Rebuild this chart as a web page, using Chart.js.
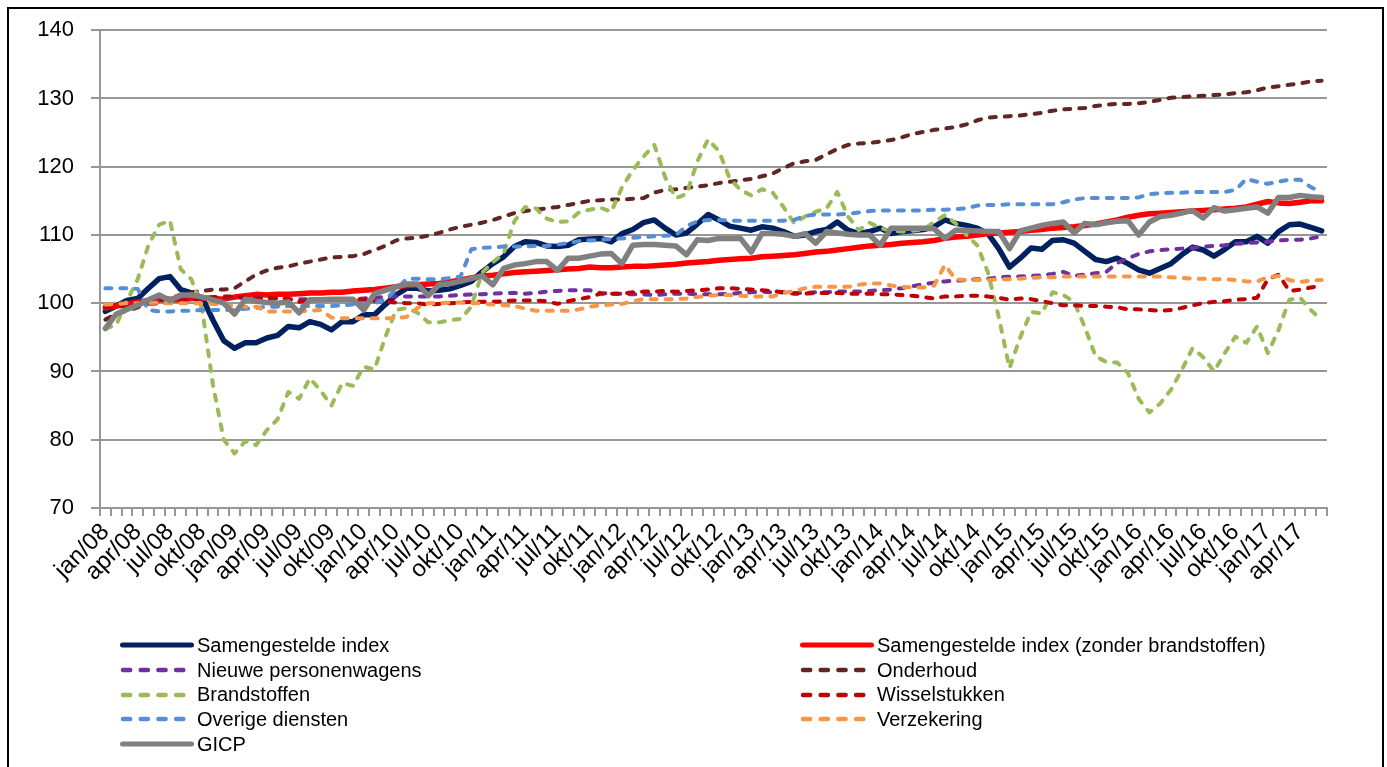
<!DOCTYPE html>
<html>
<head>
<meta charset="utf-8">
<script src="https://cdn.jsdelivr.net/npm/chart.js@4/dist/chart.umd.min.js"></script>
<style>
html,body{margin:0;padding:0;background:#fff;width:1387px;height:767px;overflow:hidden;}
#wrap{position:absolute;left:0;top:0;width:1387px;height:767px;}
#frame{position:absolute;left:7px;top:7px;width:1377px;height:800px;border:2px solid #000;box-sizing:border-box;pointer-events:none;}
#legend{position:absolute;left:0;top:0;width:1387px;height:767px;font-family:'Liberation Sans',Arial,sans-serif;font-size:20px;color:#000;pointer-events:none;}
.item{position:absolute;height:24px;display:flex;align-items:center;white-space:nowrap;}
.item svg{display:block;margin-right:3px;}
</style>
</head>
<body>
<div id="wrap"><canvas id="c" width="1387" height="767"></canvas></div>
<div id="legend"></div>
<div id="frame"></div>
<script>
// ---- categories / tick labels ----
const monthNames = ['jan','feb','mrt','apr','mei','jun','jul','aug','sep','okt','nov','dec'];
const years = ['08','09','10','11','12','13','14','15','16','17'];
const shownMonths = ['jan','apr','jul','okt'];
const lastMonthCount = 6; // 2017: jan..jun
const categories = [];
years.forEach((y, yi) => {
  const n = (yi === years.length - 1) ? lastMonthCount : 12;
  for (let m = 0; m < n; m++) categories.push(monthNames[m] + '/' + y);
});

// ---- series values ----
const samengesteldeIndex = [
  98.8, 99.6, 100.4, 100.7, 102.2, 103.6, 103.9, 102.0, 101.5, 100.8,
  97.5, 94.5, 93.4, 94.2, 94.2, 94.9, 95.3, 96.6, 96.4, 97.3,
  96.9, 96.1, 97.3, 97.3, 98.3, 98.3, 99.8, 101.2, 102.2, 102.2,
  101.8, 101.9, 102.1, 102.6, 103.2, 104.6, 105.8, 106.8, 108.3, 109.0,
  108.9, 108.4, 108.3, 108.5, 109.3, 109.4, 109.5, 109.0, 110.2, 110.8,
  111.8, 112.2, 111.0, 110.0, 110.3, 111.6, 113.0, 112.2, 111.3, 111.0,
  110.7, 111.2, 111.0, 110.5, 109.8, 110.0, 110.5, 110.8, 111.9, 110.7,
  110.2, 110.5, 111.0, 110.2, 110.5, 110.6, 110.8, 111.2, 112.2, 111.7,
  111.4, 111.0, 110.2, 108.0, 105.3, 106.6, 108.1, 107.9, 109.2, 109.3,
  108.8, 107.6, 106.4, 106.1, 106.6, 105.8, 104.9, 104.4, 105.1, 105.8,
  107.1, 108.2, 107.8, 106.9, 107.9, 109.0, 109.0, 109.8, 108.8, 110.5,
  111.5, 111.6, 111.1, 110.6
];
const zonderBrandstoffen = [
  99.3, 99.6, 99.9, 100.2, 100.4, 100.5, 100.6, 100.5, 100.7, 100.8,
  100.7, 100.6, 100.9, 101.1, 101.3, 101.2, 101.3, 101.3, 101.4, 101.5,
  101.5, 101.6, 101.6, 101.8, 101.9, 102.0, 102.2, 102.4, 102.6, 102.7,
  102.8, 102.9, 103.1, 103.4, 103.7, 104.0, 104.1, 104.3, 104.5, 104.6,
  104.7, 104.8, 104.9, 105.0, 105.1, 105.3, 105.2, 105.2, 105.3, 105.4,
  105.4, 105.5, 105.6, 105.7, 105.9, 106.0, 106.1, 106.3, 106.4, 106.5,
  106.6, 106.8, 106.9, 107.0, 107.1, 107.3, 107.5, 107.6, 107.8, 108.0,
  108.2, 108.4, 108.5, 108.6, 108.8, 108.9, 109.0, 109.2, 109.5, 109.7,
  109.8, 110.0, 110.2, 110.3, 110.4, 110.5, 110.7, 110.8, 111.0, 111.1,
  111.2, 111.4, 111.6, 111.9, 112.2, 112.6, 112.9, 113.1, 113.2, 113.3,
  113.4, 113.5, 113.6, 113.7, 113.8, 113.9, 114.1, 114.5, 114.9, 114.7,
  114.6, 114.8, 115.0, 115.0
];
const nieuwePersonenwagens = [
  99.7, 99.8, 99.9, 100.0, 100.1, 100.2, 100.3, 100.4, 100.5, 100.6,
  100.7, 100.7, 100.8, 100.8, 100.8, 100.7, 100.7, 100.6, 100.6, 100.6,
  100.5, 100.5, 100.5, 100.6, 100.7, 100.8, 100.9, 101.0, 101.0, 101.0,
  101.0, 101.0, 101.1, 101.2, 101.3, 101.3, 101.4, 101.5, 101.5, 101.4,
  101.5, 101.7, 101.8, 101.9, 101.9, 101.9, 101.5, 101.4, 101.4, 101.3,
  101.3, 101.2, 101.3, 101.4, 101.4, 101.3, 101.3, 101.3, 101.4, 101.5,
  101.6, 101.7, 101.6, 101.6, 101.5, 101.5, 101.6, 101.6, 101.7, 101.7,
  101.7, 101.8, 101.9, 102.0, 102.2, 102.5, 102.8, 103.0, 103.2, 103.3,
  103.4, 103.5, 103.6, 103.8, 103.9, 103.9, 104.0, 104.1, 104.3, 104.6,
  104.0, 104.2, 104.4, 104.6, 105.9, 106.6, 107.2, 107.6, 107.8, 107.9,
  108.0, 108.1, 108.3, 108.4, 108.5, 108.7, 108.8, 108.9, 109.0, 109.2,
  109.3, 109.3, 109.5, 109.8
];
const onderhoud = [
  97.6, 98.4, 98.9, 99.4, 100.0, 100.4, 100.8, 101.2, 101.6, 101.8,
  102.0, 102.0, 102.2, 103.2, 104.2, 104.8, 105.2, 105.4, 105.8, 106.1,
  106.4, 106.7, 106.8, 106.9, 107.2, 107.8, 108.4, 109.2, 109.5, 109.6,
  109.9, 110.3, 110.8, 111.2, 111.5, 111.8, 112.2, 112.7, 113.2, 113.5,
  113.7, 113.9, 114.1, 114.4, 114.7, 115.0, 115.1, 115.2, 115.2, 115.3,
  115.4, 116.2, 116.6, 116.7, 116.9, 117.1, 117.3, 117.6, 117.8, 118.0,
  118.2, 118.6, 119.0, 119.8, 120.5, 120.8, 121.0, 121.8, 122.6, 123.2,
  123.4, 123.5, 123.7, 123.9, 124.3, 124.8, 125.1, 125.4, 125.6, 125.8,
  126.2, 126.8, 127.2, 127.3, 127.4, 127.5, 127.7, 127.9, 128.2, 128.4,
  128.5, 128.6, 128.9, 129.1, 129.2, 129.2, 129.3, 129.5, 129.8, 130.1,
  130.2, 130.3, 130.4, 130.5, 130.6, 130.8, 130.9, 131.2, 131.6, 131.8,
  132.0, 132.2, 132.5, 132.6
];
const brandstoffen = [
  96.3, 96.8, 100.3, 103.5, 108.5, 111.5, 112.1, 105.0, 103.5, 99.0,
  88.0, 80.0, 78.0, 79.8, 79.2, 81.4, 83.0, 87.0, 86.0, 89.0,
  87.2, 85.0, 88.3, 87.9, 90.7, 90.3, 95.0, 99.0, 99.3, 98.6,
  97.2, 97.2, 97.5, 97.7, 99.5, 104.5, 106.0, 107.3, 112.0, 114.1,
  113.9, 112.4, 111.9, 112.0, 113.3, 113.7, 114.0, 113.4, 117.0, 119.5,
  121.5, 123.2, 118.5, 115.4, 116.0, 120.8, 124.0, 122.3, 118.3, 116.6,
  115.8, 116.7, 116.2, 114.1, 111.7, 112.7, 113.4, 113.9, 116.3, 112.7,
  110.7, 111.8, 111.0, 110.6, 110.5, 110.6, 110.8, 111.9, 112.9, 111.7,
  110.0, 108.5, 104.5, 98.0, 90.5, 95.0, 98.7, 98.5, 101.6, 101.2,
  100.2, 96.5, 92.2, 91.4, 91.3, 89.8, 86.0, 84.0, 85.3, 87.3,
  90.2, 93.4, 92.1, 90.0, 92.7, 95.1, 94.2, 96.6, 92.7, 96.1,
  100.5, 100.8, 99.0, 97.5
];
const wisselstukken = [
  99.4, 99.5, 99.6, 99.8, 99.9, 100.0, 100.1, 100.3, 100.6, 100.7,
  100.9, 101.0, 101.0, 100.8, 100.7, 100.7, 100.8, 100.6, 100.2, 100.4,
  100.5, 100.5, 100.5, 100.5, 100.5, 100.3, 100.2, 100.1, 100.0, 100.0,
  99.8, 99.9, 100.0, 100.1, 100.2, 100.2, 100.2, 100.3, 100.4, 100.4,
  100.4, 100.3, 99.9, 100.3, 100.6, 100.9, 101.4, 101.4, 101.4, 101.6,
  101.7, 101.7, 101.8, 101.7, 101.8, 101.9, 102.0, 102.2, 102.2, 102.1,
  102.0, 101.9, 101.8, 101.6, 101.4, 101.4, 101.5, 101.5, 101.5, 101.4,
  101.4, 101.4, 101.3, 101.3, 101.2, 101.1, 100.9, 100.7, 101.0, 101.0,
  101.1, 101.1, 101.0, 100.8, 100.5, 100.7, 100.6, 100.3, 100.0, 99.7,
  99.7, 99.6, 99.6, 99.5, 99.4, 99.1, 99.1, 99.0, 98.9, 99.0,
  99.3, 99.7, 100.0, 100.2, 100.3, 100.5, 100.6, 100.8, 103.5, 104.2,
  101.8, 102.0, 102.3, 102.6
];
const overigeDiensten = [
  102.2, 102.2, 102.2, 102.1, 99.0, 98.8, 98.8, 98.9, 98.9, 99.0,
  99.0, 99.0, 99.0, 99.2, 99.3, 99.5, 99.5, 99.6, 99.6, 99.6,
  99.6, 99.6, 99.7, 99.8, 100.0, 100.0, 100.5, 102.0, 103.6, 103.6,
  103.5, 103.5, 103.7, 103.9, 107.9, 108.1, 108.2, 108.3, 108.3, 108.3,
  108.4, 108.4, 108.6, 108.8, 109.1, 109.2, 109.3, 109.4, 109.5, 109.6,
  109.7, 109.8, 109.9, 110.0, 111.3, 112.0, 112.2, 112.2, 112.1, 112.1,
  112.1, 112.1, 112.1, 112.1, 112.2, 112.8, 113.0, 113.0, 113.0, 113.1,
  113.3, 113.5, 113.6, 113.6, 113.6, 113.6, 113.6, 113.7, 113.7, 113.8,
  113.9, 114.3, 114.4, 114.4, 114.5, 114.5, 114.5, 114.5, 114.5, 114.8,
  115.2, 115.4, 115.4, 115.4, 115.4, 115.4, 115.5, 116.0, 116.1, 116.2,
  116.2, 116.3, 116.3, 116.3, 116.3, 116.6, 118.2, 117.8, 117.5, 117.8,
  118.1, 118.1, 117.0, 116.3
];
const verzekering = [
  99.8, 99.9, 100.0, 100.0, 100.0, 100.1, 100.0, 100.0, 100.0, 100.0,
  99.9, 99.7, 99.6, 99.5, 99.5, 98.8, 98.8, 98.8, 98.8, 98.9,
  99.0, 97.9, 97.8, 97.8, 97.8, 97.8, 97.8, 97.8, 98.0, 99.3,
  100.0, 100.0, 100.1, 100.1, 100.0, 100.0, 99.8, 99.7, 99.6, 99.2,
  98.9, 98.9, 98.9, 98.9, 99.1, 99.5, 99.7, 99.8, 99.9, 100.3,
  100.6, 100.6, 100.6, 100.6, 100.7, 100.9, 101.1, 101.2, 101.2, 101.1,
  101.0, 101.0, 101.0, 101.5, 101.8, 102.2, 102.4, 102.4, 102.4, 102.4,
  102.7, 102.9, 102.9, 102.6, 102.4, 102.3, 102.3, 102.6, 105.6, 103.5,
  103.4, 103.4, 103.4, 103.5, 103.5, 103.6, 103.7, 103.8, 103.8, 103.9,
  103.9, 103.9, 103.9, 103.9, 103.9, 103.9, 103.9, 103.9, 103.9, 103.8,
  103.7, 103.6, 103.6, 103.5, 103.5, 103.4, 103.2, 103.2, 103.8, 104.0,
  103.4, 103.1, 103.3, 103.4
];
const gicp = [
  96.3, 98.4, 99.1, 99.7, 100.5, 101.2, 100.4, 101.2, 101.2, 100.9,
  100.5, 100.0, 98.4, 100.6, 100.3, 100.1, 100.0, 100.2, 98.6, 100.5,
  100.5, 100.6, 100.6, 100.6, 99.0, 101.4, 101.9, 102.4, 102.8, 102.8,
  101.1, 102.7, 102.9, 103.2, 103.6, 104.0, 102.7, 105.1, 105.6, 105.8,
  106.1, 106.1, 104.8, 106.6, 106.6, 106.9, 107.2, 107.3, 105.8, 108.5,
  108.6, 108.6, 108.5, 108.4, 107.1, 109.3, 109.2, 109.5, 109.5, 109.5,
  107.5, 110.2, 110.2, 110.1, 109.8, 110.2, 108.8, 110.5, 110.3, 110.1,
  110.0, 110.0, 108.5, 111.0, 111.0, 111.0, 111.0, 110.9, 109.5, 110.7,
  110.7, 110.6, 110.5, 110.5, 108.0, 110.6, 111.0, 111.4, 111.7, 111.9,
  110.3, 111.7, 111.5, 111.8, 112.0, 112.1, 110.0, 111.9, 112.7, 112.9,
  113.2, 113.6, 112.5, 114.0, 113.5, 113.7, 113.9, 114.1, 113.2, 115.5,
  115.5, 115.8, 115.6, 115.5
];

const yTicks = [70, 80, 90, 100, 110, 120, 130, 140];

// ---- series definitions (legend order, row-wise, 2 columns) ----
const series = [
  { label: 'Samengestelde index', data: samengesteldeIndex, color: '#002060', dashed: false },
  { label: 'Samengestelde index (zonder brandstoffen)', data: zonderBrandstoffen, color: '#ff0000', dashed: false },
  { label: 'Nieuwe personenwagens', data: nieuwePersonenwagens, color: '#7030a0', dashed: true },
  { label: 'Onderhoud', data: onderhoud, color: '#632523', dashed: true },
  { label: 'Brandstoffen', data: brandstoffen, color: '#9bbb59', dashed: true },
  { label: 'Wisselstukken', data: wisselstukken, color: '#c00000', dashed: true },
  { label: 'Overige diensten', data: overigeDiensten, color: '#558ed5', dashed: true },
  { label: 'Verzekering', data: verzekering, color: '#f79646', dashed: true },
  { label: 'GICP', data: gicp, color: '#808080', dashed: false }
];

const GRID = '#979797';
const FONT = "'Liberation Sans', Arial, sans-serif";

const datasets = series.map((s, i) => ({
  label: s.label,
  data: s.data,
  borderColor: s.color,
  backgroundColor: s.color,
  borderWidth: s.dashed ? 4 : 5.5,
  borderDash: s.dashed ? [6, 9] : [],
  borderCapStyle: 'round',
  borderJoinStyle: 'round',
  pointRadius: 0,
  pointHoverRadius: 0,
  tension: 0,
  fill: false,
  order: series.length - 1 - i
}));

new Chart(document.getElementById('c'), {
  type: 'line',
  data: { labels: categories, datasets: datasets },
  options: {
    responsive: false,
    animation: false,
    devicePixelRatio: 1,
    layout: { padding: { left: 0, right: 60, top: 30, bottom: 0 } },
    plugins: { legend: { display: false }, tooltip: { enabled: false } },
    scales: {
      x: {
        type: 'category',
        offset: true,
        grid: { display: true, drawOnChartArea: false, drawTicks: true, tickLength: 8, offset: true, color: GRID, lineWidth: 2 },
        border: { display: true, color: GRID, width: 2 },
        ticks: {
          autoSkip: false,
          minRotation: 45,
          maxRotation: 45,
          padding: 2,
          color: '#000',
          font: { family: FONT, size: 24 },
          callback: function (value, index) {
            const lab = categories[index];
            return shownMonths.includes(lab.split('/')[0]) ? lab : '';
          }
        },
        afterFit: function (scale) { scale.height = 259; }
      },
      y: {
        min: yTicks[0],
        max: yTicks[yTicks.length - 1],
        grid: { color: GRID, lineWidth: 2, drawTicks: true, tickLength: 9 },
        border: { display: true, color: GRID, width: 2 },
        ticks: {
          stepSize: 10,
          padding: 17,
          color: '#000',
          font: { family: FONT, size: 22 }
        },
        afterBuildTicks: function (scale) { scale.ticks = yTicks.map(v => ({ value: v })); },
        afterFit: function (scale) { scale.width = 100; }
      }
    }
  }
});

// ---- HTML legend (2 columns, row-wise) ----
const legendEl = document.getElementById('legend');
const legendColX = [120, 800];
const legendRowY0 = 645.3;
const legendRowStep = 24.7;
series.forEach((s, i) => {
  const col = i % 2, row = Math.floor(i / 2);
  const item = document.createElement('div');
  item.className = 'item';
  item.style.left = legendColX[col] + 'px';
  item.style.top = (legendRowY0 + row * legendRowStep - 12) + 'px';
  const svgNS = 'http://www.w3.org/2000/svg';
  const svg = document.createElementNS(svgNS, 'svg');
  svg.setAttribute('width', '74');
  svg.setAttribute('height', '10');
  const ln = document.createElementNS(svgNS, 'line');
  ln.setAttribute('x1', s.dashed ? '3' : '2.5');
  ln.setAttribute('x2', s.dashed ? '71' : '71.5');
  ln.setAttribute('y1', '5');
  ln.setAttribute('y2', '5');
  ln.setAttribute('stroke', s.color);
  ln.setAttribute('stroke-width', s.dashed ? '4.5' : '5');
  ln.setAttribute('stroke-linecap', 'round');
  if (s.dashed) ln.setAttribute('stroke-dasharray', '7.2 10.5');
  svg.appendChild(ln);
  item.appendChild(svg);
  const txt = document.createElement('span');
  txt.textContent = s.label;
  item.appendChild(txt);
  legendEl.appendChild(item);
});
</script>
</body>
</html>
